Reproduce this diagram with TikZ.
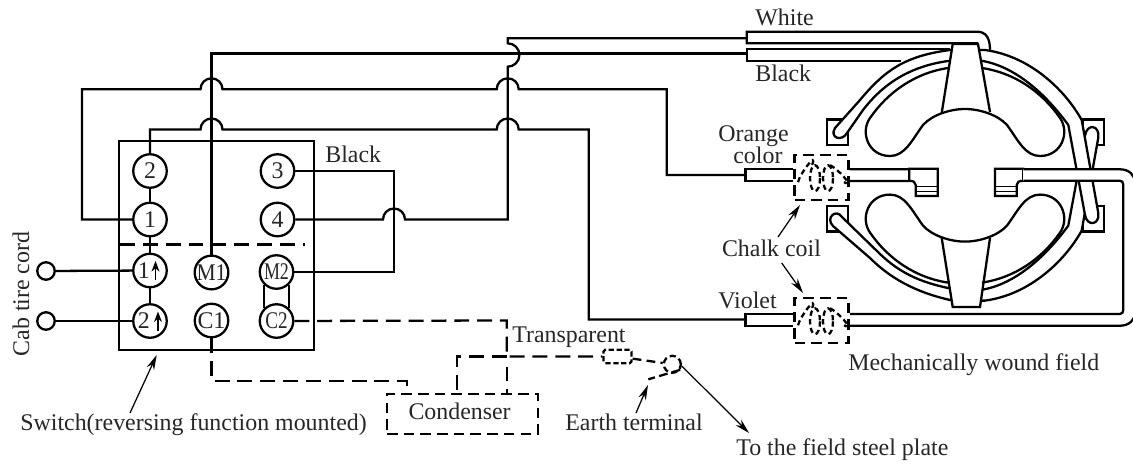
\documentclass[tikz,border=0pt]{standalone}
\usepackage{graphicx}
\usepackage{fontspec}
\setmainfont{Liberation Serif}
\usetikzlibrary{arrows.meta}

\def\hopRad{11}
\def\busWhite{38.3}
\def\busBlack{53.5}
\def\busOrange{89.3}
\def\busViolet{129.5}
\def\riserLeft{211.5}
\def\riserRight{507.7}
\def\termSize{0.67cm}
\def\wireHop#1#2{-- ({#1-\hopRad},#2) arc [start angle = 180, end angle = 360, radius = \hopRad]}
\def\chalkCoil#1{
    \draw [dashcoil]
    (#1) ++(-6.5,1) ellipse [x radius = 5, y radius = 13]
    (#1) ++(6.5,1) ellipse [x radius = 5, y radius = 13]
    (#1) ++(-23.5,5) .. controls +(2,-9) and +(6,-15) .. ++(14,-17)
    (#1) ++(8.5,-12) .. controls +(6,2) and +(12,6) .. ++(14,17)
    ;
}

\tikzset{
    every node/.style = {font = \fontsize{13.6}{16}\selectfont, text = black!85, inner sep = 0pt},
    wire/.style = {line width = 1.3pt},
    thinwire/.style = {line width = 0.7pt},
    dashwire/.style = {line width = 1.3pt, dash pattern = on 8.5pt off 4.5pt},
    dashcoil/.style = {line width = 1.3pt, dash pattern = on 3pt off 2pt},
    dashbox/.style = {draw, line width = 1.3pt, dash pattern = on 6pt off 3.5pt},
    terminal/.style = {draw, circle, fill = white, line width = 1.3pt, minimum size = \termSize},
    cordend/.style = {draw, circle, fill = white, line width = 1.3pt, minimum size = 0.35cm},
    pointer/.style = {line width = 0.7pt, -{Stealth[length = 8.5pt, width = 4.5pt]}},
    upmark/.style = {line width = 0.9pt, -{Stealth[length = 6pt, width = 4.5pt]}},
    note/.style = {anchor = base west}
}

\begin{document}
\begin{tikzpicture}[x = 0.02cm, y = -0.02cm]
    \useasboundingbox (0,0) rectangle (1133,464);
    \clip (0,0) rectangle (1133,464);
    %% switch
    \draw [line width = 1.4pt] (119,141) rectangle (314,350);
    \draw [dashwire] (120,244.5) -- (305,244.5);
    \foreach \name/\x/\y/\txt in {
        two/150/171/2, one/150/219.5/1, three/277.5/171/3, four/277.5/219.5/4,
        upone/150/270.5/1\rule{7pt}{0pt}, uptwo/150/321/2\rule{7pt}{0pt},
        mone/211.5/272.5/\scalebox{0.9}[1]{M1}, mtwo/276.5/272/\scalebox{0.75}[1]{M2},
        cone/211.5/320.5/C1, ctwo/276.5/321/\scalebox{0.8}[1]{C2}
    } {
        \node [terminal] (term\name) at (\x,\y) {\txt};
    }
    \draw [upmark] (termupone) ++(5.5,9.5) -- ++(0,-19);
    \draw [upmark] (termuptwo) ++(8,9.5) -- ++(0,-19);
    \node [cordend] (cordone) at (46,271) {};
    \node [cordend] (cordtwo) at (46,321) {};
    \draw [wire] (cordone) -- (termupone);
    \draw [wire] (cordtwo) -- (termuptwo);
    \draw [wire] (termtwo) -- (termone);
    \draw [wire] (termone) -- (termupone);
    \draw [wire] (termupone) -- (termuptwo);
    \draw [wire] (termmtwo.227) -- (termctwo.133);
    \draw [wire] (termmtwo.313) -- (termctwo.47);
    %% coils
    \node [dashbox, minimum width = 1.08cm, minimum height = 0.9cm] (orangecoil) at (821.5,177.2) {};
    \node [dashbox, minimum width = 1.08cm, minimum height = 0.9cm] (violetcoil) at (821.5,320.3) {};
    \chalkCoil{orangecoil}
    \chalkCoil{violetcoil}
    \coordinate (whitein) at (746.7,\busWhite);
    \coordinate (blackin) at (746.7,\busBlack);
    \coordinate (orangein) at (746,175);
    \coordinate (violetin) at (746,319.5);
    %% wiring to the field
    \draw [wire] (termmone) -- (\riserLeft,\busBlack) -- (blackin);
    \draw [wire] (termone) -- (82,219.5) -- (82,\busOrange)
    \wireHop{\riserLeft}{\busOrange}
    \wireHop{\riserRight}{\busOrange}
    -- (666.7,\busOrange) -- (666.7,175) -- (orangein);
    \draw [wire] (termtwo) -- (150,\busViolet)
    \wireHop{\riserLeft}{\busViolet}
    \wireHop{\riserRight}{\busViolet}
    -- (588.7,\busViolet) -- (588.7,319.5) -- (violetin);
    \draw [wire] (termfour) \wireHop{394}{219.5}
    -- (\riserRight,219.5) -- (\riserRight,66.7)
    arc [start angle = 90, end angle = -90, radius = 11.7]
    -- (\riserRight,\busWhite) -- (whitein);
    \draw [wire] (termthree) -- (394,171) -- (394,272) -- (termmtwo);
    %% condenser and earth
    \node [dashbox, minimum width = 3.02cm, minimum height = 0.8cm] (condenser) at (462.5,414) {};
    \node (condensertext) at (459.6,411.3) {Condenser};
    \node [draw, line width = 1.3pt, dash pattern = on 3pt off 1.5pt, minimum width = 0.56cm, minimum height = 0.27cm, rounded corners = 1pt] (transparent) at (617.5,356.5) {};
    \node [draw, circle, line width = 1.3pt, dash pattern = on 3.5pt off 2pt, minimum size = 0.34cm] (earthterm) at (672.3,364.3) {};
    \coordinate (earthtail) at (648.3,379.3);
    \coordinate (ctwocorner) at (506.7,320.5);
    \coordinate (sharecorner) at (506.7,356.5);
    \draw [dashwire] (termctwo) -- (ctwocorner) -- (sharecorner) -- (transparent);
    \draw [dashwire] (sharecorner) -- (457,356.5) -- (457 ,394);
    \draw [dashwire] (sharecorner) ++(0,10) -- (506.7,394);
    \draw [dashwire] (termcone) -- (211.5,381) -- (407,381) -- (407,394);
    \draw [dashcoil, dash pattern = on 5pt off 3pt] (transparent) -- (earthterm);
    \draw [dashcoil, dash pattern = on 5pt off 2.5pt] (earthterm.-35) -- (earthtail);
    %% stator poles and slots
    \draw [wire] (827,119.5) rectangle (848,145);
    \draw [wire] (1083,119.5) rectangle (1104,145);
    \draw [wire] (827,206) rectangle (848,231.5);
    \draw [wire] (1083,206) rectangle (1104,231.5);
    %% winding bands
    \draw [wire, fill = white]
    (965,50) -- (950,50) .. controls (905,56) and (885,70) .. (860,100) -- (835,128)
    .. controls (829,138) and (842,142) .. (847,133) -- (863,110)
    .. controls (880,88) and (905,67) .. (948,61) -- (965,61) -- cycle;
    \draw [wire, fill = white]
    (965,300) -- (950,300) .. controls (915,292) and (890,278) .. (870,258) -- (833,226)
    .. controls (825,218) and (836,208) .. (842,217) -- (880,254)
    .. controls (900,273) and (920,282) .. (948,288) -- (965,288) -- cycle;
    \draw [wire, fill = white]
    (975,300.6) -- (985,300.6) .. controls (1030,294.6) and (1065,260.6) .. (1081.7,230.6) -- (1098.3,137.6)
    .. controls (1100,125) and (1087,123) .. (1085,135.6) -- (1068.3,225.6)
    .. controls (1050,250.6) and (1020,282.6) .. (983,289.6) -- (975,289.6) -- cycle;
    \draw [wire, fill = white]
    (975,50) -- (985,50) .. controls (1030,56) and (1065,90) .. (1081.7,120) -- (1098.3,213)
    .. controls (1100,225) and (1087,227) .. (1085,215) -- (1068.3,125)
    .. controls (1050,100) and (1020,68) .. (983,61) -- (975,61) -- cycle;
    %% poles
    \draw [wire, fill = white] (941.7,113) -- (952.7,44) -- (978,44) -- (990,112);
    \draw [wire, fill = white] (941.7,238) -- (952.7,307) -- (980,307) -- (990,238);
    \draw [wire]
    (948,68) .. controls (915,73) and (888,92) .. (870,118)
    .. controls (860,132) and (868,156) .. (890,156)
    .. controls (905,156) and (912,140) .. (923,125)
    .. controls (932,115) and (950,109) .. (965,109)
    .. controls (980,109) and (998,115) .. (1007,125)
    .. controls (1018,140) and (1025,156) .. (1040,156)
    .. controls (1062,156) and (1070,132) .. (1060,118)
    .. controls (1042,92) and (1015,73) .. (982,68);
    \draw [wire]
    (948,282.6) .. controls (915,277.6) and (888,258.6) .. (870,232.6)
    .. controls (860,218.6) and (868,194.6) .. (890,194.6)
    .. controls (905,194.6) and (912,210.6) .. (923,225.6)
    .. controls (932,235.6) and (950,241.6) .. (965,241.6)
    .. controls (980,241.6) and (998,235.6) .. (1007,225.6)
    .. controls (1018,210.6) and (1025,194.6) .. (1040,194.6)
    .. controls (1062,194.6) and (1070,218.6) .. (1060,232.6)
    .. controls (1042,258.6) and (1015,277.6) .. (982,282.6);
    %% lead pairs
    \draw [wire] (978,43.3) -- (746.7,43.3) -- (746.7,31.7) -- (977,31.7)
    .. controls (986,31.7) and (990,38) .. (990,50);
    \draw [wire] (950,49) -- (746.7,49) -- (746.7,60.7) -- (901,60.7);
    \draw [wire] (orangecoil.west) ++(0,-7.9) -- ++(-48,0) -- ++(0,11.7) -- ++(48,0);
    \draw [wire] (violetcoil.west) ++(0,-6.6) -- ++(-48,0) -- ++(0,12) -- ++(48,0);
    \draw [wire] (orangecoil.east) ++(0,-7.9) -- (909.3,169.3);
    \draw [wire] (orangecoil.east) ++(0,3.8) -- (909.3,181);
    %% shoes
    \draw [wire] (909.3,168.8) -- (937.7,168.8) -- (937.7,196) -- (915.7,196) -- (915.7,185)
    .. controls (915.7,182) and (913,180.8) .. (909.3,180.8) -- cycle;
    \draw [wire] (1023.3,168.8) -- (995,168.8) -- (995,196) -- (1016.7,196) -- (1016.7,185)
    .. controls (1016.7,182) and (1019,180.8) .. (1023.3,180.8) -- cycle;
    \draw [thinwire] (915.7,186.7) -- (937.7,186.7) (915.7,191.7) -- (937.7,191.7);
    \draw [thinwire] (995,186.7) -- (1016.7,186.7) (995,191.7) -- (1016.7,191.7);
    \fill [white] (1023.3,169.3) rectangle (1123,181);
    \draw [wire] (1023.3,169.3) -- (1120,169.3)
    .. controls (1129,169.3) and (1135,175) .. (1135,183) -- (1135,313)
    .. controls (1135,320) and (1129,325.7) .. (1120,325.7) -- (850,325.7);
    \draw [wire] (850,314) -- (1120,314)
    .. controls (1122,314) and (1123.3,312) .. (1123.3,310) -- (1123.3,185)
    .. controls (1123.3,182) and (1122,180.8) .. (1120,180.8) -- (1023.3,180.8);
    %% labels
    \node [note] (whitelabel) at (755,25.7) {White};
    \node [note] (blacklabelpair) at (755,81.7) {Black};
    \node [note] (blacklabel) at (325,162.7) {Black};
    \node [note] (orangelabel) at (718,141.7) {Orange};
    \node [note] (colorlabel) at (733,163) {color};
    \node [note] (violetlabel) at (718,308) {Violet};
    \node [note] (chalklabel) at (721.7,256) {Chalk coil};
    \node [note] (fieldlabel) at (848,370.7) {Mechanically wound field};
    \node [note] (transparentlabel) at (512,342.7) {Transparent};
    \node [note] (earthlabel) at (565,430) {Earth terminal};
    \node [note] (platelabel) at (736,455) {To the field steel plate};
    \node [note] (switchlabel) at (20,430) {Switch(reversing function mounted)};
    \node [rotate = 90] (cordlabel) at (21,294) {Cab tire cord};
    %% pointers
    \coordinate (switchtip) at (156.7,355);
    \coordinate (orangetip) at (800,205);
    \coordinate (violettip) at (803,293);
    \coordinate (earthtip) at (648,385);
    \coordinate (platetip) at (749,433);
    \draw [pointer] (130,413) -- (switchtip);
    \draw [pointer] (778,237) -- (orangetip);
    \draw [pointer] (781.7,263) -- (violettip);
    \draw [pointer] (636,413) -- (earthtip);
    \draw [pointer] (earthterm.-10) -- (platetip);
\end{tikzpicture}
\end{document}
